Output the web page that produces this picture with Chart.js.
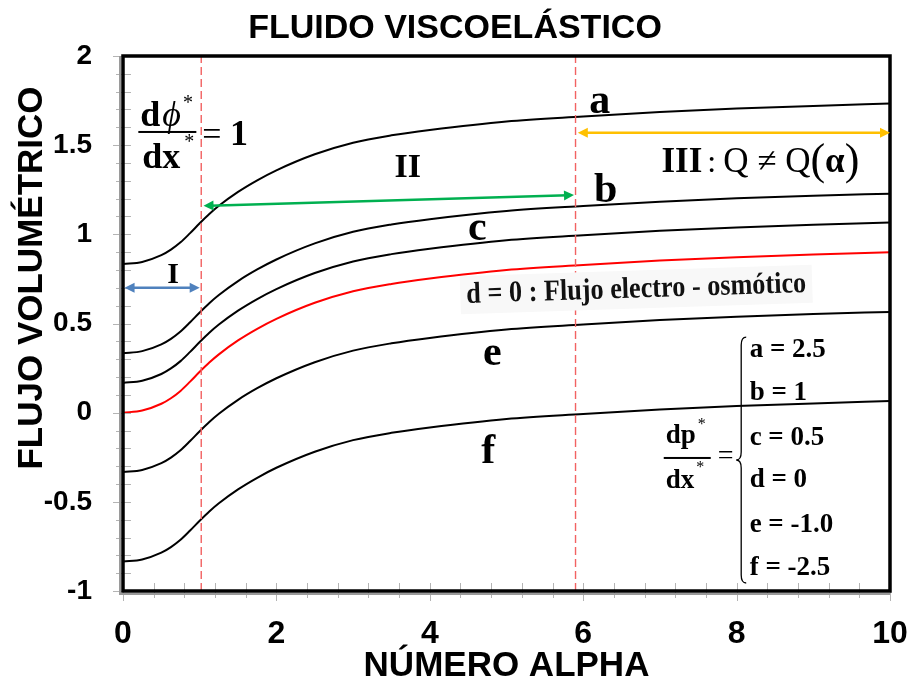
<!DOCTYPE html>
<html>
<head>
<meta charset="utf-8">
<script src="https://cdn.jsdelivr.net/npm/chart.js@4.4.1/dist/chart.umd.min.js"></script>
<style>
  html, body { margin: 0; padding: 0; background: #fff; }
</style>
</head>
<body>
<canvas id="flujoChart" width="913" height="679"></canvas>
<script>
// numero alpha (x) and volumetric flow curves
const alpha  = [0, 0.25, 0.5, 0.625, 0.75, 0.875, 1, 1.125, 1.25, 1.5, 1.75, 2, 2.5, 3, 3.5, 4, 5, 6, 7, 8, 9, 10];
const curveA = [0.833, 0.845, 0.883, 0.914, 0.955, 1.007, 1.062, 1.114, 1.16, 1.238, 1.303, 1.359, 1.449, 1.514, 1.555, 1.585, 1.633, 1.661, 1.686, 1.705, 1.72, 1.733];
const curveB = [0.333, 0.345, 0.383, 0.414, 0.455, 0.507, 0.562, 0.614, 0.66, 0.738, 0.803, 0.859, 0.949, 1.014, 1.055, 1.085, 1.131, 1.159, 1.183, 1.202, 1.217, 1.228];
const curveC = [0.167, 0.179, 0.217, 0.248, 0.289, 0.341, 0.396, 0.448, 0.494, 0.572, 0.637, 0.693, 0.783, 0.848, 0.889, 0.919, 0.967, 0.995, 1.02, 1.039, 1.054, 1.067];
const curveD = [0, 0.012, 0.05, 0.081, 0.122, 0.174, 0.229, 0.281, 0.327, 0.405, 0.47, 0.526, 0.616, 0.681, 0.722, 0.752, 0.80, 0.828, 0.853, 0.872, 0.887, 0.90];
const curveE = [-0.333, -0.321, -0.283, -0.252, -0.211, -0.159, -0.104, -0.052, -0.006, 0.072, 0.137, 0.193, 0.283, 0.348, 0.389, 0.419, 0.466, 0.494, 0.519, 0.538, 0.553, 0.565];
const curveF = [-0.835, -0.823, -0.785, -0.754, -0.713, -0.661, -0.606, -0.554, -0.508, -0.43, -0.365, -0.309, -0.219, -0.154, -0.113, -0.083, -0.035, -0.007, 0.018, 0.037, 0.052, 0.065];

const regionBounds = [1.02, 5.9];           // red dashed separators
const xTicks = [0, 2, 4, 6, 8, 10];
const yTicks = [-1, -0.5, 0, 0.5, 1, 1.5, 2];
const pressureLabels = ['a = 2.5', 'b = 1', 'c = 0.5', 'd = 0', 'e = -1.0', 'f = -2.5'];
const curveNames = ['a', 'b', 'c', 'e', 'f'];

const SANS = '"Liberation Sans", Arial, sans-serif';
const SERIF = '"Liberation Serif", "Times New Roman", serif';

function toPoints(ys) {
    return alpha.map((x, i) => ({ x: x, y: ys[i] }));
}

function curve(ys, color) {
    return {
        data: toPoints(ys),
        borderColor: color,
        borderWidth: 2,
        pointRadius: 0,
        cubicInterpolationMode: 'monotone',
        fill: false
    };
}

function separator(x) {
    return {
        data: [{ x: x, y: -1 }, { x: x, y: 2 }],
        borderColor: '#f26262',
        borderWidth: 1.4,
        borderDash: [8, 4],
        pointRadius: 0
    };
}

// Helper: arrowhead
function head(ctx, x, y, ang) {
    ctx.save();
    ctx.translate(x, y);
    ctx.rotate(ang);
    ctx.beginPath();
    ctx.moveTo(0, 0);
    ctx.lineTo(-10, -5);
    ctx.lineTo(-10, 5);
    ctx.closePath();
    ctx.fill();
    ctx.restore();
}

function arrow(ctx, x1, y1, x2, y2, color) {
    const ang = Math.atan2(y2 - y1, x2 - x1);
    ctx.strokeStyle = color;
    ctx.fillStyle = color;
    ctx.lineWidth = 2.5;
    ctx.beginPath();
    ctx.moveTo(x1 + 6 * Math.cos(ang), y1 + 6 * Math.sin(ang));
    ctx.lineTo(x2 - 6 * Math.cos(ang), y2 - 6 * Math.sin(ang));
    ctx.stroke();
    head(ctx, x2, y2, ang);
    head(ctx, x1, y1, ang + Math.PI);
}

// Helper: text made of runs [{t, f, dy}]
function runs(ctx, x, y, parts) {
    let cx = x;
    parts.forEach(p => {
        ctx.font = p.f;
        ctx.fillText(p.t, cx, y + (p.dy || 0));
        cx += ctx.measureText(p.t).width + (p.gap || 0);
    });
    return cx;
}

const decorPlugin = {
    id: 'decor',
    afterDatasetsDraw(chart) {
        const ctx = chart.ctx;
        const xs = chart.scales.x, ys = chart.scales.y;
        const X = v => xs.getPixelForValue(v);
        const Y = v => ys.getPixelForValue(v);
        const a = chart.chartArea;

        ctx.save();
        // minor / major tick marks crossing the axes
        ctx.strokeStyle = '#b4b4b4';
        ctx.lineWidth = 1;
        for (let i = 0; i <= 30; i++) {
            const py = Math.round(Y(-1 + i * 0.1)) + 0.5;
            const major = i % 5 === 0;
            ctx.beginPath();
            ctx.moveTo(a.left - (major ? 10 : 7), py);
            ctx.lineTo(a.left + 8, py);
            ctx.stroke();
        }
        for (let i = 0; i <= 25; i++) {
            const px = Math.round(X(i * 0.4)) + 0.5;
            const major = i % 5 === 0;
            ctx.beginPath();
            ctx.moveTo(px, a.bottom - 8);
            ctx.lineTo(px, a.bottom + (major ? 10 : 7));
            ctx.stroke();
        }

        // frame with a soft shadow on left/bottom
        ctx.strokeStyle = '#9a9a9a';
        ctx.lineWidth = 2;
        ctx.beginPath();
        ctx.moveTo(a.left - 3, a.top);
        ctx.lineTo(a.left - 3, a.bottom + 3);
        ctx.lineTo(a.right, a.bottom + 3);
        ctx.stroke();
        ctx.strokeStyle = '#000';
        ctx.lineWidth = 3.5;
        ctx.strokeRect(a.left, a.top, a.right - a.left, a.bottom - a.top);
        ctx.restore();
    },
    afterDraw(chart) {
        const ctx = chart.ctx;
        const xs = chart.scales.x, ys = chart.scales.y;
        const X = v => xs.getPixelForValue(v);
        const Y = v => ys.getPixelForValue(v);
        const a = chart.chartArea;

        ctx.save();
        ctx.fillStyle = '#000';
        ctx.textBaseline = 'alphabetic';

        // titles
        ctx.textAlign = 'center';
        ctx.font = 'bold 34px ' + SANS;
        ctx.fillText('FLUIDO VISCOELÁSTICO', 455, 38);
        ctx.font = 'bold 35px ' + SANS;
        ctx.fillText('NÚMERO ALPHA', (a.left + a.right) / 2, 676);
        ctx.save();
        ctx.translate(42, 278);
        ctx.rotate(-Math.PI / 2);
        ctx.font = 'bold 35px ' + SANS;
        ctx.fillText('FLUJO VOLUMÉTRICO', 0, 0);
        ctx.restore();

        // arrows for regions I, II, III
        arrow(ctx, X(0.02), Y(0.70), X(1.0), Y(0.70), '#4f81bd');
        arrow(ctx, X(1.05), Y(1.16), X(5.88), Y(1.22), '#00b050');
        arrow(ctx, X(5.93), Y(1.57), X(10), Y(1.57), '#ffc000');

        // curve letters
        ctx.fillStyle = '#000';
        ctx.font = 'bold 42px ' + SERIF;
        const letterPos = [[6.215, 1.681], [6.294, 1.182], [4.618, 0.969], [4.814, 0.267], [4.761, -0.282]];
        curveNames.forEach((n, i) => ctx.fillText(n, X(letterPos[i][0]), Y(letterPos[i][1])));

        // region labels
        ctx.font = 'bold 34px ' + SERIF;
        ctx.fillText('II', X(3.712), Y(1.322));
        ctx.font = 'bold 30px ' + SERIF;
        ctx.fillText('I', X(0.654), Y(0.727));

        ctx.textAlign = 'left';
        // III : Q != Q(alpha)
        runs(ctx, X(7.02), Y(1.35), [
            { t: 'III', f: 'bold 35px ' + SERIF, gap: 5 },
            { t: ':', f: '32px ' + SERIF, gap: 7 },
            { t: 'Q ≠ Q', f: '35px ' + SERIF },
            { t: '(', f: '44px ' + SERIF, dy: 2 },
            { t: 'α', f: 'bold 35px ' + SERIF },
            { t: ')', f: '44px ' + SERIF, dy: 2 }
        ]);

        // d = 0 label (slightly tilted, pale box)
        ctx.save();
        ctx.translate(X(4.48), Y(0.615));
        ctx.rotate(-1.85 * Math.PI / 180);
        ctx.fillStyle = '#f8f8f8';
        ctx.fillRect(-6, -27, 352, 38);
        ctx.fillStyle = '#111';
        ctx.font = 'bold 30px ' + SERIF;
        const dText = 'd = 0 : Flujo electro - osmótico';
        const w = ctx.measureText(dText).width;
        ctx.scale(340 / w, 1);
        ctx.fillText(dText, 0, 0);
        ctx.restore();

        // dphi*/dx* = 1
        ctx.fillStyle = '#000';
        const fx = X(0.2);
        runs(ctx, fx + 2, Y(1.61), [
            { t: 'd', f: 'bold 36px ' + SERIF, gap: 2 },
            { t: 'ϕ', f: 'italic 36px ' + SERIF, gap: 2 },
            { t: '*', f: '20px ' + SERIF, dy: -17 }
        ]);
        runs(ctx, fx + 4, Y(1.37), [
            { t: 'dx', f: 'bold 36px ' + SERIF, gap: 4 },
            { t: '*', f: '20px ' + SERIF, dy: -20 }
        ]);
        ctx.fillRect(fx, Y(1.574) - 1, 58, 2);
        runs(ctx, fx + 64, Y(1.50), [
            { t: '= ', f: '34px ' + SERIF },
            { t: '1', f: 'bold 36px ' + SERIF }
        ]);

        // dp*/dx* = { a..f
        const gx = X(7.05);
        runs(ctx, gx + 2, Y(-0.17), [
            { t: 'dp', f: 'bold 27px ' + SERIF, gap: 2 },
            { t: '*', f: '16px ' + SERIF, dy: -14 }
        ]);
        runs(ctx, gx + 2, Y(-0.42), [
            { t: 'dx', f: 'bold 27px ' + SERIF, gap: 2 },
            { t: '*', f: '16px ' + SERIF, dy: -16 }
        ]);
        ctx.fillRect(gx, Y(-0.254) - 1, 47, 2);
        ctx.font = '28px ' + SERIF;
        ctx.fillText('=', gx + 54, Y(-0.29));

        // brace
        const bx = X(8.06), bt = Y(0.424), bb = Y(-0.955), bm = (bt + bb) / 2;
        ctx.strokeStyle = '#000';
        ctx.lineWidth = 1.3;
        ctx.beginPath();
        ctx.moveTo(bx + 5, bt);
        ctx.quadraticCurveTo(bx, bt, bx, bt + 8);
        ctx.lineTo(bx, bm - 8);
        ctx.quadraticCurveTo(bx, bm, bx - 5, bm);
        ctx.quadraticCurveTo(bx, bm, bx, bm + 8);
        ctx.lineTo(bx, bb - 8);
        ctx.quadraticCurveTo(bx, bb, bx + 5, bb);
        ctx.stroke();

        ctx.font = 'bold 27px ' + SERIF;
        const legendY = [0.313, 0.071, -0.181, -0.417, -0.669, -0.91];
        pressureLabels.forEach((t, i) => ctx.fillText(t, X(8.17), Y(legendY[i])));

        ctx.restore();
    }
};

const ctx = document.getElementById('flujoChart').getContext('2d');
new Chart(ctx, {
    type: 'line',
    data: {
        datasets: [
            separator(regionBounds[0]),
            separator(regionBounds[1]),
            curve(curveA, '#000000'),
            curve(curveB, '#000000'),
            curve(curveC, '#000000'),
            curve(curveD, '#ff0000'),
            curve(curveE, '#000000'),
            curve(curveF, '#000000')
        ]
    },
    options: {
        responsive: false,
        animation: false,
        layout: { padding: { top: 56, right: 23, left: 0, bottom: 0 } },
        plugins: { legend: { display: false }, tooltip: { enabled: false } },
        scales: {
            x: {
                type: 'linear',
                min: 0,
                max: 10,
                afterBuildTicks: s => { s.ticks = xTicks.map(v => ({ value: v })); },
                afterFit: s => { s.height = 88; s.paddingLeft = 0; s.paddingRight = 0; },
                ticks: {
                    color: '#000',
                    padding: 24,
                    maxRotation: 0,
                    callback: v => String(v),
                    font: { family: SANS, size: 32, weight: 'bold' }
                },
                grid: { display: false, drawTicks: false },
                border: { display: false }
            },
            y: {
                type: 'linear',
                min: -1,
                max: 2,
                afterBuildTicks: s => { s.ticks = yTicks.map(v => ({ value: v })); },
                afterFit: s => { s.width = 123; s.paddingTop = 0; s.paddingBottom = 0; },
                ticks: {
                    color: '#000',
                    padding: 31,
                    callback: v => String(v),
                    font: { family: SANS, size: 28, weight: 'bold' }
                },
                grid: { display: false, drawTicks: false },
                border: { display: false }
            }
        }
    },
    plugins: [decorPlugin]
});
</script>
</body>
</html>
